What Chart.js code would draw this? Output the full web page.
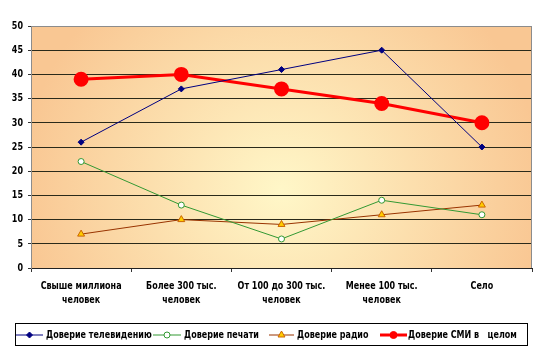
<!DOCTYPE html>
<html>
<head>
<meta charset="utf-8">
<script src="https://cdn.jsdelivr.net/npm/chart.js@4/dist/chart.umd.min.js"></script>
<style>
  html, body { margin: 0; padding: 0; background: #fff; }
  canvas { display: block; }
</style>
</head>
<body>
<canvas id="myChart" width="544" height="350"></canvas>
<script>
const categories = [
    ['Свыше миллиона', 'человек'],
    ['Более 300 тыс.', 'человек'],
    ['От 100 до 300 тыс.', 'человек'],
    ['Менее 100 тыс.', 'человек'],
    ['Село']
];
const tvTrust = [26, 37, 41, 45, 25];
const pressTrust = [22, 13, 6, 14, 11];
const radioTrust = [7, 10, 9, 11, 13];
const mediaTrust = [39, 40, 37, 34, 30];
const yTicks = [0, 5, 10, 15, 20, 25, 30, 35, 40, 45, 50];

const FONT = "'DejaVu Sans Condensed', 'Liberation Sans', Arial, sans-serif";
const SQUEEZE = 0.81; // узкий жирный шрифт: сжимаем по горизонтали

function narrowText(ctx, text, x, y) {
    const w = ctx.measureText(text).width;
    ctx.fillText(text, x, y, w * SQUEEZE);
    return w * SQUEEZE;
}

// плавная заливка области построения и серая рамка
const plotBackground = {
    id: 'plotBackground',
    beforeDraw(chart) {
        const { ctx, chartArea: a } = chart;
        const cx = a.left + a.width * 0.5;
        const cy = a.top + a.height * 0.68;
        const g = ctx.createRadialGradient(cx, cy, 0, cx, cy, a.width * 0.52);
        g.addColorStop(0, '#FFF7C8');
        g.addColorStop(1, '#F9C793');
        ctx.save();
        ctx.fillStyle = g;
        ctx.fillRect(a.left, a.top, a.width, a.height);
        ctx.restore();
    },
    afterDraw(chart) {
        const { ctx, chartArea: a } = chart;
        ctx.save();
        ctx.strokeStyle = '#8c8c8c';
        ctx.lineWidth = 1;
        ctx.beginPath();
        ctx.moveTo(a.left, a.top + 0.5);
        ctx.lineTo(a.right - 0.5, a.top + 0.5);
        ctx.lineTo(a.right - 0.5, a.bottom);
        ctx.stroke();
        ctx.restore();
    }
};

// подписи осей рисуем сами, чтобы сжать шрифт
const axisLabels = {
    id: 'axisLabels',
    afterDraw(chart) {
        const ctx = chart.ctx;
        const xs = chart.scales.x, ys = chart.scales.y;
        ctx.save();
        ctx.font = 'bold 11px ' + FONT;
        ctx.fillStyle = '#000';
        ctx.textBaseline = 'middle';
        ctx.textAlign = 'center';
        chart.data.labels.forEach((lab, i) => {
            const px = xs.getPixelForTick(i);
            [].concat(lab).forEach((line, j) => {
                narrowText(ctx, line, px, xs.top + 18 + j * 14);
            });
        });
        ctx.textAlign = 'right';
        ys.ticks.forEach(t => {
            narrowText(ctx, String(t.value), ys.right - 8, ys.getPixelForValue(t.value));
        });
        ctx.restore();
    }
};

// легенда в рамке под графиком: линия + маркер + подпись
const boxLegend = {
    id: 'boxLegend',
    afterDraw(chart) {
        const ctx = chart.ctx;
        const items = [
            { x: 16, len: 27, text: 46 },
            { x: 153, len: 28, text: 184 },
            { x: 269, len: 25, text: 297 },
            { x: 380, len: 27, text: 408 }
        ];
        ctx.save();
        ctx.strokeStyle = '#000';
        ctx.lineWidth = 1;
        ctx.strokeRect(15.5, 323.5, 512, 22);
        const y = 335;
        ctx.font = 'bold 11px ' + FONT;
        ctx.textBaseline = 'middle';
        ctx.fillStyle = '#000';
        chart.data.datasets.forEach((ds, i) => {
            const it = items[i];
            ctx.strokeStyle = ds.borderColor;
            ctx.lineWidth = ds.borderWidth;
            ctx.beginPath();
            ctx.moveTo(it.x, y);
            ctx.lineTo(it.x + it.len, y);
            ctx.stroke();
            ctx.fillStyle = ds.pointBackgroundColor;
            ctx.strokeStyle = ds.pointBorderColor;
            ctx.lineWidth = 1;
            Chart.helpers.drawPoint(ctx, {
                pointStyle: ds.pointStyle,
                radius: i === 3 ? 3.5 : ds.pointRadius,
                rotation: 0,
                borderWidth: 1
            }, it.x + it.len / 2, y);
            ctx.fillStyle = '#000';
            narrowText(ctx, ds.label, it.text, y);
        });
        ctx.restore();
    }
};

const ctx = document.getElementById('myChart');

const myChart = new Chart(ctx, {
    type: 'line',
    data: {
        labels: categories,
        datasets: [{
            label: 'Доверие телевидению',
            data: tvTrust,
            borderColor: '#000080',
            borderWidth: 1,
            pointStyle: 'rectRot',
            pointRadius: 3,
            pointBackgroundColor: '#000080',
            pointBorderColor: '#000080'
        }, {
            label: 'Доверие печати',
            data: pressTrust,
            borderColor: '#339933',
            borderWidth: 1,
            pointStyle: 'circle',
            pointRadius: 3,
            pointBackgroundColor: '#ffffff',
            pointBorderColor: '#339933'
        }, {
            label: 'Доверие радио',
            data: radioTrust,
            borderColor: '#993300',
            borderWidth: 1,
            pointStyle: 'triangle',
            pointRadius: 4,
            pointBackgroundColor: '#FFCC00',
            pointBorderColor: '#CC6600'
        }, {
            label: 'Доверие СМИ в   целом',
            data: mediaTrust,
            borderColor: '#FF0000',
            borderWidth: 3,
            pointStyle: 'circle',
            pointRadius: 6,
            pointBackgroundColor: '#FF0000',
            pointBorderColor: '#FF0000'
        }]
    },
    options: {
        responsive: false,
        animation: false,
        layout: { padding: { top: 26, right: 12, left: 0, bottom: 0 } },
        plugins: {
            legend: { display: false },
            tooltip: { enabled: false }
        },
        scales: {
            x: {
                offset: true,
                afterFit(scale) { scale.height = 82; },
                grid: {
                    offset: true,
                    drawOnChartArea: false,
                    drawTicks: true,
                    tickLength: 4,
                    tickColor: '#333'
                },
                border: { color: '#222', width: 1 },
                ticks: { display: false, autoSkip: false }
            },
            y: {
                min: 0,
                max: 50,
                afterFit(scale) { scale.width = 31; },
                afterBuildTicks(scale) { scale.ticks = yTicks.map(v => ({ value: v })); },
                grid: {
                    color: (c) => c.tick && c.tick.value === 50 ? '#8c8c8c' : '#2a2a1a',
                    tickColor: '#333',
                    tickLength: 3
                },
                border: { color: '#8c8c8c', width: 1 },
                ticks: { display: false }
            }
        }
    },
    plugins: [plotBackground, axisLabels, boxLegend]
});
</script>
</body>
</html>
